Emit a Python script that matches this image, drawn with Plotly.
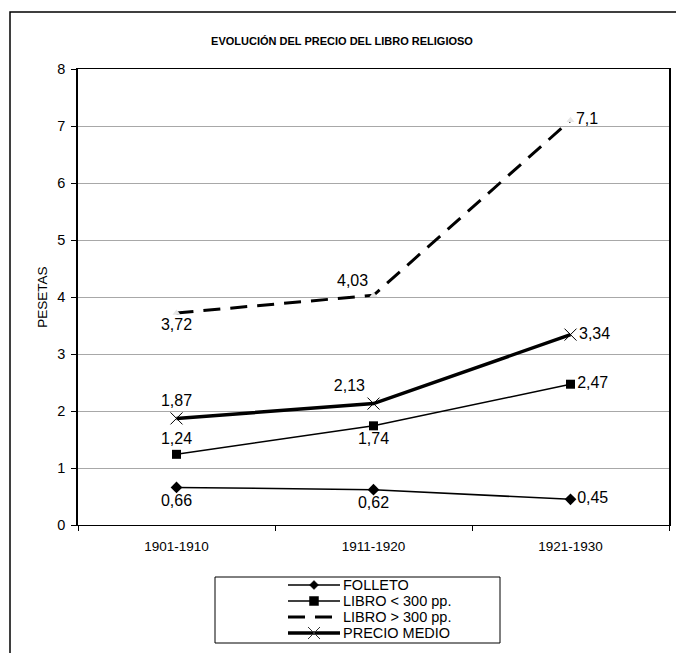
import plotly.graph_objects as go

periodos = ["1901-1910", "1911-1920", "1921-1930"]
folleto = [0.66, 0.62, 0.45]
libro_menor = [1.24, 1.74, 2.47]
libro_mayor = [3.72, 4.03, 7.1]
precio_medio = [1.87, 2.13, 3.34]
y_ticks = [0, 1, 2, 3, 4, 5, 6, 7, 8]
nombres = ["FOLLETO", "LIBRO < 300 pp.", "LIBRO > 300 pp.", "PRECIO MEDIO"]

W, H = 684, 653
OFF = 8  # default page body margin of the written html
FONT = "Liberation Sans, Arial, sans-serif"


def px(x):
    return (x - OFF) / W


def py(y):
    return 1 - (y - OFF) / H


def lab(vals):
    return [("%g" % v).replace(".", ",") for v in vals]


fig = go.Figure()

fig.add_trace(go.Scatter(
    x=periodos, y=libro_mayor, mode="lines+markers+text", name=nombres[2],
    line=dict(color="black", width=3, dash="17px,10px"),
    marker=dict(symbol="triangle-up", size=7, color="#e6e6e6"),
    text=lab(libro_mayor), textposition=["bottom center", "top left", "middle right"],
    textfont=dict(size=16, color="black", family=FONT), showlegend=False, cliponaxis=False))

fig.add_trace(go.Scatter(
    x=periodos, y=folleto, mode="lines+markers+text", name=nombres[0],
    line=dict(color="black", width=1.5),
    marker=dict(symbol="diamond", size=9, color="black"),
    text=lab(folleto), textposition=["bottom center", "bottom center", "middle right"],
    textfont=dict(size=16, color="black", family=FONT), showlegend=False, cliponaxis=False))

fig.add_trace(go.Scatter(
    x=periodos, y=libro_menor, mode="lines+markers+text", name=nombres[1],
    line=dict(color="black", width=1.5),
    marker=dict(symbol="square", size=9, color="black"),
    text=lab(libro_menor), textposition=["top center", "bottom center", "middle right"],
    textfont=dict(size=16, color="black", family=FONT), showlegend=False, cliponaxis=False))

fig.add_trace(go.Scatter(
    x=periodos, y=precio_medio, mode="lines+markers+text", name=nombres[3],
    line=dict(color="black", width=3.5),
    marker=dict(symbol="x-thin-open", size=12, line=dict(color="#333333", width=1)),
    text=lab(precio_medio), textposition=["top center", "top left", "middle right"],
    textfont=dict(size=16, color="black", family=FONT), showlegend=False, cliponaxis=False))

shapes = []
annotations = []

# outer chart border (only top/left visible in frame)
shapes.append(dict(type="rect", xref="paper", yref="paper",
                   x0=px(10), y0=py(700), x1=px(740), y1=py(12),
                   line=dict(color="black", width=1.5)))

# manual legend box
shapes.append(dict(type="rect", xref="paper", yref="paper",
                   x0=px(215), y0=py(643), x1=px(500), y1=py(577),
                   line=dict(color="black", width=1)))

leg_y = [585, 601, 617, 633]
lx0, lx1, mx = 288, 340, 314
for i, nm in enumerate(nombres):
    yy = leg_y[i]
    if i == 2:
        shapes.append(dict(type="line", xref="paper", yref="paper",
                           x0=px(lx0), y0=py(yy), x1=px(lx1), y1=py(yy),
                           line=dict(color="black", width=3, dash="17px,10px")))
    else:
        shapes.append(dict(type="line", xref="paper", yref="paper",
                           x0=px(lx0), y0=py(yy), x1=px(lx1), y1=py(yy),
                           line=dict(color="black", width=3.5 if i == 3 else 1.5)))
    if i == 0:
        d = 4.5
        path = "M {} {} L {} {} L {} {} L {} {} Z".format(
            px(mx - d), py(yy), px(mx), py(yy - d), px(mx + d), py(yy), px(mx), py(yy + d))
        shapes.append(dict(type="path", xref="paper", yref="paper", path=path,
                           fillcolor="black", line=dict(color="black", width=0.5)))
    elif i == 1:
        d = 4.5
        shapes.append(dict(type="rect", xref="paper", yref="paper",
                           x0=px(mx - d), y0=py(yy + d), x1=px(mx + d), y1=py(yy - d),
                           fillcolor="black", line=dict(color="black", width=0.5)))
    elif i == 3:
        d = 6
        for s in (1, -1):
            shapes.append(dict(type="line", xref="paper", yref="paper",
                               x0=px(mx - d), y0=py(yy - s * d), x1=px(mx + d), y1=py(yy + s * d),
                               line=dict(color="#333333", width=1)))
    annotations.append(dict(x=px(342), y=py(yy), xref="paper", yref="paper",
                            text=nm, showarrow=False, xanchor="left", yanchor="middle",
                            height=16, borderpad=0, valign="middle",
                            font=dict(size=14.5, color="black", family=FONT)))

fig.update_layout(
    width=W, height=H,
    margin=dict(l=0, r=0, t=0, b=0),
    paper_bgcolor="white", plot_bgcolor="white",
    showlegend=False,
    title=dict(text="<b>EVOLUCIÓN DEL PRECIO DEL LIBRO RELIGIOSO</b>",
               x=px(342), xref="container", xanchor="center",
               y=py(41), yref="container", yanchor="middle",
               font=dict(size=11, color="black", family=FONT)),
    font=dict(family=FONT, color="black"),
    xaxis=dict(domain=[px(78), px(669)], type="category",
               showline=True, linecolor="black", linewidth=1, mirror=True,
               ticks="outside", ticklen=5, tickcolor="black", tickson="boundaries",
               ticklabelstandoff=9,
               tickfont=dict(size=13.5, color="black"), showgrid=False, automargin=False,
               range=[-0.5, 2.5]),
    yaxis=dict(domain=[py(525), py(69)], range=[0, 8], tickvals=y_ticks,
               showline=True, linecolor="black", linewidth=1.5, mirror=True,
               ticks="outside", ticklen=5, tickcolor="black", ticklabelstandoff=3,
               tickfont=dict(size=14.5, color="black"), showgrid=True, gridcolor="#a8a8a8", gridwidth=1,
               zeroline=False, automargin=False,
               title=dict(text="PESETAS", font=dict(size=13.5, color="black"), standoff=7)),
    shapes=shapes,
    annotations=annotations,
)

fig.write_html("out.html")
